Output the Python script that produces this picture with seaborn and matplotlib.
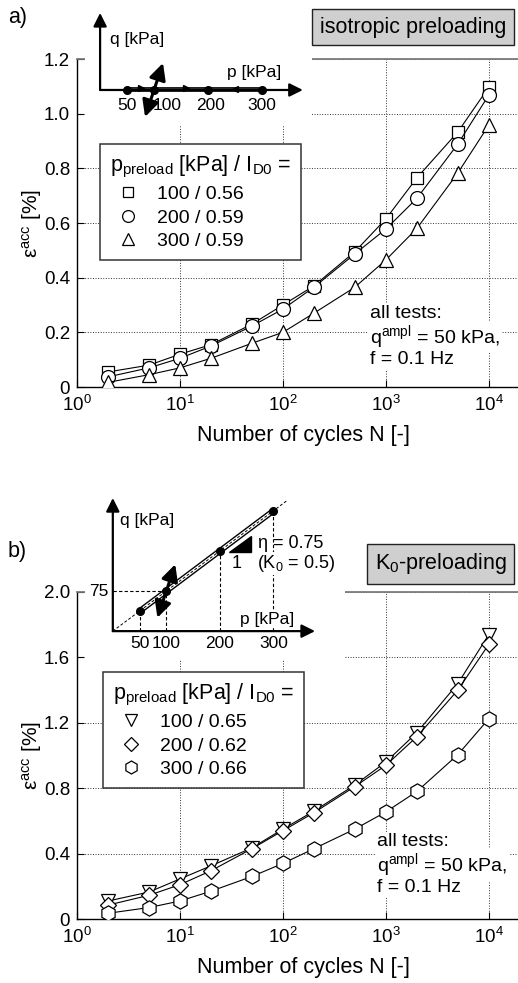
"""
Accumulated strain vs. number of cycles, isotropic vs. K0 preloading.
"""
import numpy as np
import pandas as pd
import matplotlib
matplotlib.use("Agg")
import matplotlib.pyplot as plt
from matplotlib.lines import Line2D
from matplotlib.patches import Polygon
from matplotlib.ticker import NullLocator
import seaborn as sns

# ---- data -------------------------------------------------------------
N = [2, 5, 10, 20, 50, 100, 200, 500, 1000, 2000, 5000, 10000]

# a) isotropic preloading  (eps_acc in %)
ISO_LABELS = ["100 / 0.56", "200 / 0.59", "300 / 0.59"]
iso_100 = [0.055, 0.08, 0.12, 0.155, 0.23, 0.30, 0.37, 0.495, 0.615, 0.765, 0.933, 1.097]
iso_200 = [0.037, 0.07, 0.105, 0.15, 0.223, 0.285, 0.365, 0.487, 0.578, 0.69, 0.889, 1.068]
iso_300 = [0.017, 0.045, 0.07, 0.105, 0.16, 0.20, 0.27, 0.365, 0.465, 0.58, 0.783, 0.958]

# b) K0 preloading
K0_LABELS = ["100 / 0.65", "200 / 0.62", "300 / 0.66"]
k0_100 = [0.11, 0.165, 0.245, 0.325, 0.435, 0.55, 0.66, 0.82, 0.96, 1.14, 1.44, 1.74]
k0_200 = [0.085, 0.145, 0.21, 0.295, 0.43, 0.54, 0.65, 0.81, 0.94, 1.115, 1.40, 1.68]
k0_300 = [0.035, 0.07, 0.11, 0.17, 0.26, 0.34, 0.43, 0.55, 0.655, 0.78, 1.005, 1.225]

XTICKS = [1, 10, 100, 1000, 10000]
YT_A = [0, 0.2, 0.4, 0.6, 0.8, 1.0, 1.2]
YT_A_LBL = ["0", "0.2", "0.4", "0.6", "0.8", "1.0", "1.2"]
YT_B = [0, 0.4, 0.8, 1.2, 1.6, 2.0]
YT_B_LBL = ["0", "0.4", "0.8", "1.2", "1.6", "2.0"]

# stress path insets
P_PRE = [50, 100, 200, 300]        # kPa
ETA_K0 = 0.75
Q_AMPL = 50                        # kPa
P_LBL_ISO = [50, 125, 205, 300]     # label positions (shifted "100")

LEG_TITLE = r"p$_{\mathrm{preload}}$ [kPa] / I$_{\mathrm{D0}}$ ="
ALL_TESTS = ["all tests:", r"q$^{\mathrm{ampl}}$ = 50 kPa,", "f = 0.1 Hz"]

# ---- style ------------------------------------------------------------
sns.set_theme(style="ticks")
plt.rcParams["font.family"] = ["Liberation Sans", "DejaVu Sans"]
plt.rcParams["mathtext.fontset"] = "custom"
plt.rcParams["mathtext.rm"] = "Liberation Sans"
plt.rcParams["mathtext.it"] = "Liberation Sans:italic"
plt.rcParams["mathtext.bf"] = "Liberation Sans:bold"
plt.rcParams["text.color"] = "black"
plt.rcParams["axes.labelcolor"] = "black"
plt.rcParams["xtick.color"] = "black"
plt.rcParams["ytick.color"] = "black"

W, H = 518, 983
FS = 14          # legend / notes
FS_TICK = 13.5
FS_LAB = 15.5
FS_IN = 12.5     # inset
fig = plt.figure(figsize=(W / 100, H / 100), dpi=100, facecolor="white")


def rect(x0, y0, x1, y1):
    """pixel box (top-left origin) -> figure fraction rect"""
    return [x0 / W, 1 - y1 / H, (x1 - x0) / W, (y1 - y0) / H]


def main_panel(r, series, labels, markers, sizes, yt, ylbl, leg_xy, txt_xy):
    ax = fig.add_axes(r)
    ax.set_xscale("log")
    for vals, m, ms in zip(series, markers, sizes):
        df = pd.DataFrame({"N": N, "eps": vals})
        sns.lineplot(data=df, x="N", y="eps", ax=ax, color="black", lw=0.8,
                     marker=m, ms=ms, mfc="white", mec="black", mew=0.9,
                     legend=False, zorder=3)
    ax.set_xlim(1, 10 ** 4.4)
    ax.set_ylim(0, yt[-1])
    ax.set_xticks(XTICKS)
    ax.xaxis.set_minor_locator(NullLocator())
    ax.set_yticks(yt)
    ax.set_yticklabels(ylbl)
    ax.tick_params(direction="in", length=5, width=0.8, labelsize=FS_TICK,
                   colors="black")
    ax.tick_params(axis="x", pad=6)
    ax.tick_params(axis="y", pad=5)
    ax.grid(True, which="major", ls=":", lw=0.7, color="#333333")
    ax.spines["right"].set_visible(False)
    ax.spines["top"].set_color("#777777")
    for s in ("left", "bottom"):
        ax.spines[s].set_color("black")
        ax.spines[s].set_linewidth(1.0)
    ax.set_xlabel("Number of cycles N [-]", fontsize=FS_LAB, labelpad=7)
    ax.set_ylabel("ε$^{\\mathrm{acc}}$ [%]", fontsize=FS_LAB - 0.5, labelpad=0)

    handles = [Line2D([], [], ls="none", marker=m, ms=ms * 0.85, mfc="white",
                      mec="black", mew=0.9) for m, ms in zip(markers, sizes)]
    leg = ax.legend(handles, labels, title=LEG_TITLE, loc="upper left",
                    bbox_to_anchor=(leg_xy[0] / W, 1 - leg_xy[1] / H),
                    bbox_transform=fig.transFigure, fontsize=FS,
                    title_fontsize=FS + 1.5, alignment="left", fancybox=False,
                    edgecolor="#333333", framealpha=1, handlelength=1.9,
                    handletextpad=0.55, labelspacing=0.3, borderpad=0.5,
                    borderaxespad=0)
    leg.get_frame().set_linewidth(1.1)
    leg.set_zorder(5)

    for t, y in zip(ALL_TESTS, txt_xy[1]):
        ax.text(txt_xy[0] / W, 1 - y / H, t, transform=fig.transFigure,
                fontsize=FS, va="center", ha="left", zorder=6,
                bbox=dict(boxstyle="square,pad=0.1", fc="white", ec="none"))
    return ax


def inset(r, xlim, ylim):
    ia = fig.add_axes(r, zorder=2)
    ia.set_facecolor("white")
    ia.set_xlim(*xlim)
    ia.set_ylim(*ylim)
    for s in ia.spines.values():
        s.set_visible(False)
    ia.set_xticks([])
    ia.set_yticks([])
    return ia


def arrow(ia, start, tip, style="-|>", lw=1.6, ms=20):
    ia.annotate("", xy=tip, xytext=start,
                arrowprops=dict(arrowstyle=style, lw=lw, color="black",
                                shrinkA=0, shrinkB=0, mutation_scale=ms))


# ---- a) isotropic -----------------------------------------------------
main_panel(rect(77, 59, 530, 387), [iso_100, iso_200, iso_300], ISO_LABELS,
           ["s", "o", "^"], [9, 10, 10.5], YT_A, YT_A_LBL,
           (100, 144), (370, [313, 337, 360]))

ia = inset(rect(85, 0, 312, 125), (-28, 393), (-65, 167))
arrow(ia, (0, 0), (0, 143))
arrow(ia, (0, 0), (376, 0))
p_iso = np.array(P_PRE, dtype=float)
q_iso = np.zeros_like(p_iso)
ia.plot([P_PRE[0], P_PRE[-1]], [2, 2], color="black", lw=3.4,
        solid_capstyle="butt")
ia.plot([P_PRE[0], P_PRE[-1]], [2, 2], color="white", lw=1.0,
        solid_capstyle="butt")
ia.plot([75, 160], [3, 3], ls="none", marker=">", ms=4, color="black")
ia.plot([250], [1], ls="none", marker="<", ms=4, color="black")
ia.plot(p_iso, q_iso, ls="none", marker="o", ms=5.5, color="black", zorder=4)
dp = Q_AMPL / 3
arrow(ia, (100 - dp, -Q_AMPL), (100 + dp, Q_AMPL), style="<|-|>", lw=2.2, ms=25)
for p, s in zip(P_LBL_ISO, P_PRE):
    ia.text(p, -28, str(s), fontsize=FS_IN, ha="center", va="center")
ia.text(18, 93, "q [kPa]", fontsize=FS_IN, ha="left", va="center")
ia.text(236, 33, "p [kPa]", fontsize=FS_IN, ha="left", va="center")

# ---- b) K0 ------------------------------------------------------------
main_panel(rect(77, 592, 530, 919), [k0_100, k0_200, k0_300], K0_LABELS,
           ["v", "D", "h"], [10.5, 8.5, 11], YT_B, YT_B_LBL,
           (103, 672), (377, [842, 865, 888]))

ib = inset(rect(85, 490, 345, 660), (-52, 434), (-54, 264))
arrow(ib, (0, 0), (0, 249))
arrow(ib, (0, 0), (378, 0))
p_k0 = np.array(P_PRE, dtype=float)
q_k0 = ETA_K0 * p_k0
for p, q in zip(p_k0, q_k0):
    ib.plot([p, p], [0, q], lw=0.8, color="black", dashes=(3, 2))
ib.plot([0, 100], [75, 75], lw=0.8, color="black", dashes=(3, 2))
ib.plot([P_PRE[0], P_PRE[-1]], q_k0[[0, -1]], color="black", lw=4.2,
        solid_capstyle="butt")
ib.plot([P_PRE[0], P_PRE[-1]], q_k0[[0, -1]], color="white", lw=2.2,
        solid_capstyle="butt")
ib.plot([0, 325], [0, 325 * ETA_K0], color="black", lw=0.7, dashes=(3, 2))
ib.plot(p_k0, q_k0, ls="none", marker="o", ms=5.5, color="black", zorder=4)
arrow(ib, (100 - dp, 75 - Q_AMPL), (100 + dp, 75 + Q_AMPL), style="<|-|>",
      lw=2.2, ms=25)
ib.add_patch(Polygon([(218, 148), (258, 148), (258, 178)], closed=True,
                     color="black"))
for p in P_PRE:
    ib.text(p, -24, str(p), fontsize=FS_IN, ha="center", va="center")
ib.text(-9, 75, "75", fontsize=FS_IN, ha="right", va="center")
ib.text(13, 207, "q [kPa]", fontsize=FS_IN, ha="left", va="center")
ib.text(237, 22, "p [kPa]", fontsize=FS_IN, ha="left", va="center",
        bbox=dict(boxstyle="square,pad=0.05", fc="white", ec="none"))
ib.text(272, 164, "η = 0.75", fontsize=FS_IN + 0.5, ha="left", va="center")
ib.text(232, 127, "1", fontsize=FS_IN + 0.5, ha="center", va="center")
ib.text(269, 127, "(K$_0$ = 0.5)", fontsize=FS_IN + 0.5, ha="left",
        va="center",
        bbox=dict(boxstyle="square,pad=0.05", fc="white", ec="none"))

# ---- labels -----------------------------------------------------------
box = dict(boxstyle="square,pad=0.35", fc="#cfcfcf", ec="#222222", lw=1.0)
fig.text(320 / W, 1 - 27 / H, "isotropic preloading", fontsize=FS_LAB,
         va="center", ha="left", bbox=box, zorder=3)
fig.text(375 / W, 1 - 564 / H, "K$_0$-preloading", fontsize=FS_LAB,
         va="center", ha="left", bbox=box, zorder=3)
fig.text(8 / W, 1 - 17 / H, "a)", fontsize=15.5, va="center", ha="left")
fig.text(8 / W, 1 - 551 / H, "b)", fontsize=15.5, va="center", ha="left")

fig.savefig("out.png", dpi=100, facecolor="white")
plt.close(fig)
